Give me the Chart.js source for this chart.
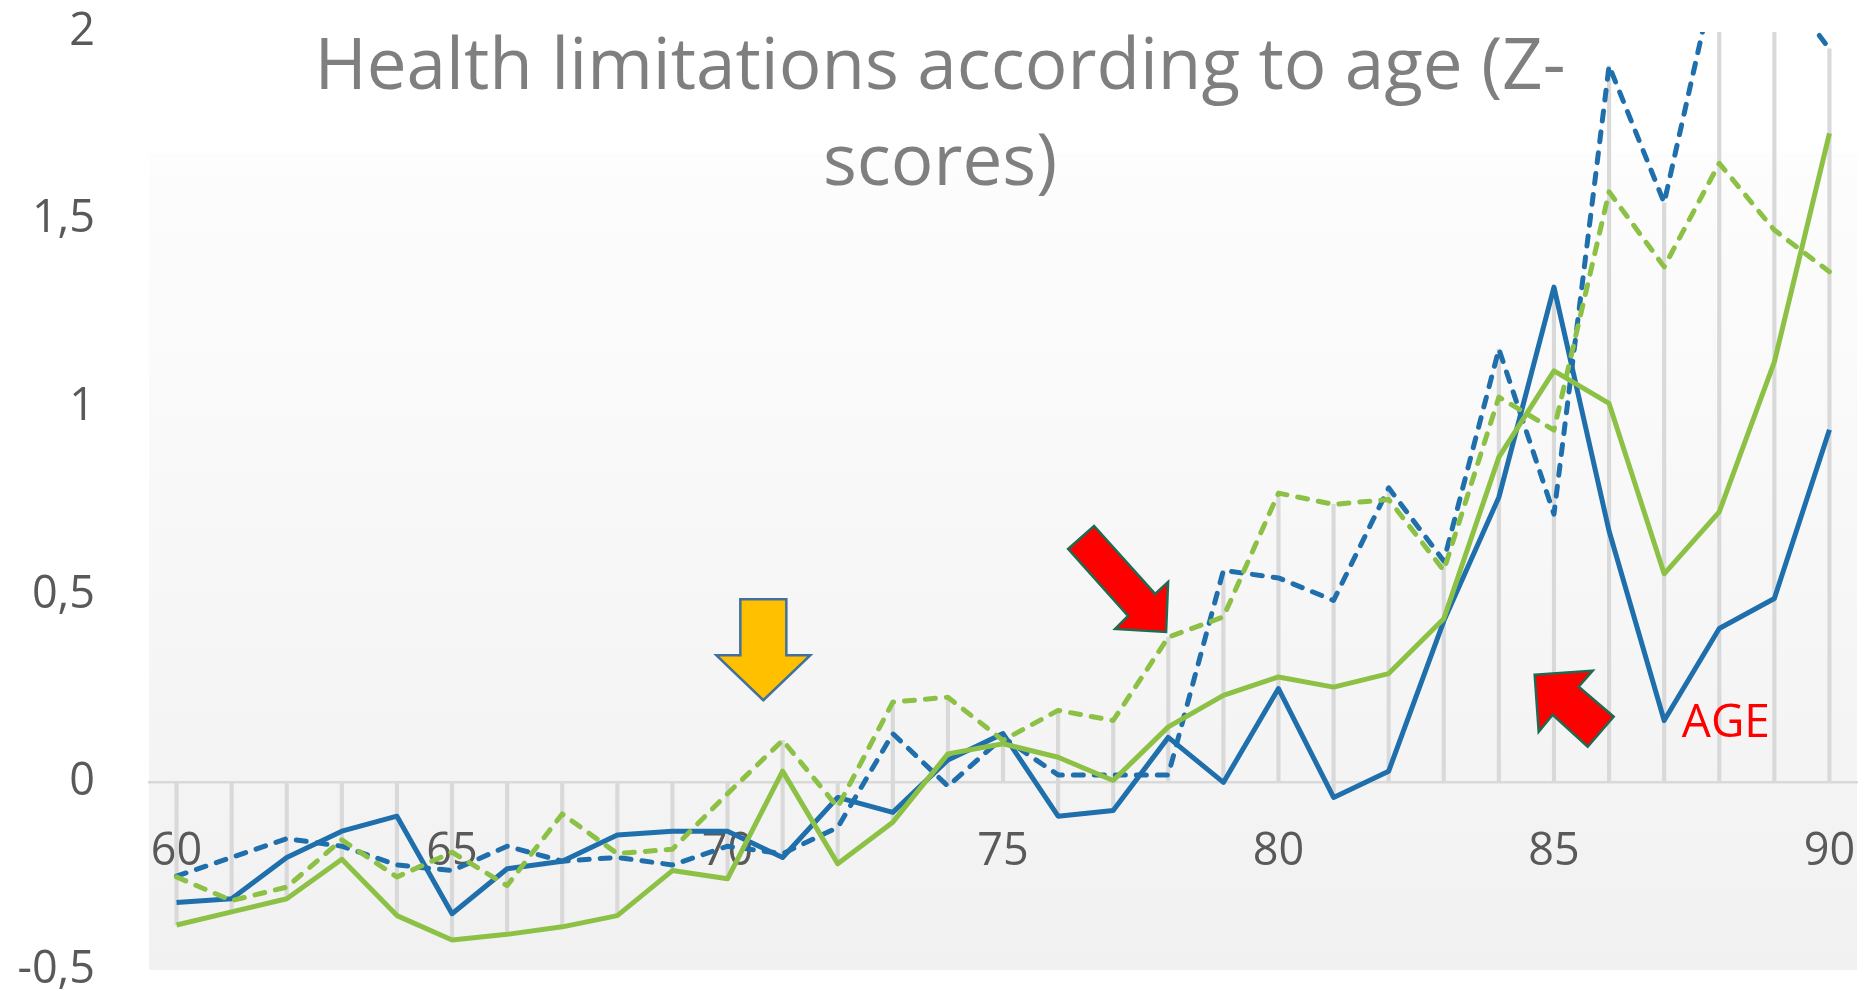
<!DOCTYPE html>
<html>
<head>
<meta charset="utf-8">
<script src="https://cdn.jsdelivr.net/npm/chart.js@4.4.0/dist/chart.umd.min.js"></script>
<style>
  html, body { margin: 0; padding: 0; background: #fff; }
  canvas { display: block; }
</style>
</head>
<body>
<canvas id="ageChart" width="1870" height="991"></canvas>
<script>
/* Health limitations according to age - z-scores, 4 series + drop lines */

const BLUE = '#1f6fac';
const GREEN = '#8cc146';
const DROP_GREY = '#d9d9d9';
const TICK_GREY = '#595959';

const ages = [60,61,62,63,64,65,66,67,68,69,70,71,72,73,74,75,76,77,78,79,80,81,82,83,84,85,86,87,88,89,90];
const blueSolid   = [-0.32,-0.31,-0.20,-0.13,-0.09,-0.35,-0.23,-0.21,-0.14,-0.13,-0.13,-0.20,-0.04,-0.08,0.06,0.13,-0.09,-0.075,0.12,0.00,0.25,-0.04,0.03,0.43,0.76,1.32,0.67,0.165,0.41,0.49,0.94];
const blueDashed  = [-0.25,-0.20,-0.15,-0.17,-0.22,-0.235,-0.17,-0.21,-0.20,-0.22,-0.17,-0.19,-0.12,0.13,-0.01,0.12,0.02,0.02,0.02,0.565,0.545,0.485,0.785,0.59,1.155,0.715,1.91,1.545,2.2,2.15,1.955];
const greenSolid  = [-0.38,-0.345,-0.31,-0.205,-0.355,-0.42,-0.405,-0.385,-0.355,-0.235,-0.257,0.03,-0.217,-0.106,0.076,0.103,0.067,0.005,0.148,0.232,0.281,0.254,0.29,0.436,0.867,1.097,1.01,0.556,0.721,1.121,1.73];
const greenDashed = [-0.252,-0.315,-0.279,-0.153,-0.252,-0.186,-0.275,-0.084,-0.19,-0.178,-0.03,0.112,-0.066,0.214,0.227,0.112,0.192,0.165,0.387,0.441,0.771,0.741,0.754,0.565,1.027,0.939,1.574,1.374,1.65,1.472,1.361];

const titleLines = ['Health limitations according to age (Z-', 'scores)'];

// drop lines: from the lowest to the highest point of each age (axis included)
const dropLines = ages.map((_, i) => {
  const vals = [0, blueSolid[i], blueDashed[i], greenSolid[i], greenDashed[i]];
  return [Math.min(...vals), Math.max(...vals)];
});

// drawn shapes on top of the plot, anchored at (age, z) with pixel offsets
const arrows = [
  { age: 70.65, z: 0.219, fill: '#ffc000', stroke: '#41719c',
    shape: [[-23,-101],[23,-101],[23,-45],[47,-45],[0,0],[-47,-45],[-23,-45]] },
  { age: 77.96, z: 0.401, fill: '#ff0000', stroke: '#1e6b52',
    shape: [[-98,-83],[-72,-106],[-11,-38],[2,-50],[0,0],[-51,-3],[-38,-16]] },
  { age: 84.65, z: 0.287, fill: '#ff0000', stroke: '#1e6b52',
    shape: [[0,0],[58,-4],[44,12],[79,42],[53,72],[18,40],[4,57]] }
];

Chart.defaults.font.family = "'Open Sans', sans-serif";
Chart.defaults.color = TICK_GREY;

const plotBackground = {
  id: 'plotBackground',
  beforeDraw(chart) {
    const { ctx, chartArea: ca } = chart;
    ctx.save();
    ctx.fillStyle = '#ffffff';
    ctx.fillRect(0, 0, chart.width, chart.height);
    const top = 153;
    const g = ctx.createLinearGradient(0, top, 0, ca.bottom);
    g.addColorStop(0, '#fdfdfd');
    g.addColorStop(1, '#f1f1f1');
    ctx.fillStyle = g;
    ctx.fillRect(ca.left, top, ca.right - ca.left, ca.bottom - top);
    ctx.restore();
  }
};

const annotations = {
  id: 'annotations',
  afterDatasetsDraw(chart) {
    const { ctx, scales: { x, y } } = chart;
    ctx.save();
    arrows.forEach(a => {
      const px = x.getPixelForValue(a.age - ages[0]);
      const py = y.getPixelForValue(a.z);
      ctx.beginPath();
      a.shape.forEach(([dx, dy], i) => i ? ctx.lineTo(px + dx, py + dy) : ctx.moveTo(px + dx, py + dy));
      ctx.closePath();
      ctx.fillStyle = a.fill;
      ctx.fill();
      ctx.lineWidth = 2.5;
      ctx.lineJoin = 'miter';
      ctx.strokeStyle = a.stroke;
      ctx.stroke();
    });
    ctx.font = "46px 'Open Sans'";
    ctx.fillStyle = '#ff0000';
    ctx.textBaseline = 'alphabetic';
    ctx.textAlign = 'left';
    ctx.fillText('AGE', x.getPixelForValue(87.32 - ages[0]), y.getPixelForValue(0.12));
    ctx.restore();
  }
};

function lineSet(label, data, color, dashed, order) {
  return {
    type: 'line',
    label: label,
    data: data,
    yAxisID: 'y',
    borderColor: color,
    backgroundColor: color,
    borderWidth: 5,
    borderDash: dashed ? [10, 11] : [],
    borderCapStyle: dashed ? 'round' : 'butt',
    borderJoinStyle: 'round',
    pointRadius: 0,
    tension: 0,
    order: order
  };
}

new Chart(document.getElementById('ageChart').getContext('2d'), {
  data: {
    labels: ages,
    datasets: [
      lineSet('Blue solid', blueSolid, BLUE, false, 4),
      lineSet('Blue dashed', blueDashed, BLUE, true, 3),
      lineSet('Green solid', greenSolid, GREEN, false, 2),
      lineSet('Green dashed', greenDashed, GREEN, true, 1),
      {
        type: 'bar',
        label: 'Drop lines',
        data: dropLines,
        yAxisID: 'y',
        backgroundColor: DROP_GREY,
        borderWidth: 0,
        barThickness: 3.5,
        order: 10
      }
    ]
  },
  options: {
    responsive: false,
    animation: false,
    layout: { padding: { top: 32, bottom: 21, left: 10, right: 0 } },
    plugins: {
      legend: { display: false },
      tooltip: { enabled: false },
      title: {
        display: true,
        text: titleLines,
        color: '#7f7f7f',
        font: { size: 71, weight: 'normal', lineHeight: '96px' },
        padding: { top: -11.5, bottom: -180.5 }
      }
    },
    scales: {
      x: {
        type: 'category',
        offset: true,
        position: { y: 0 },
        grid: { display: false, drawTicks: false },
        border: { display: true, color: DROP_GREY, width: 2.5 },
        ticks: {
          autoSkip: false,
          maxRotation: 0,
          padding: 43,
          color: TICK_GREY,
          font: { size: 45 },
          callback: (val, i) => (ages[i] % 5 === 0 ? String(ages[i]) : '')
        },
        afterFit: s => { s.paddingLeft = 0; s.paddingRight = 0; }
      },
      y: {
        min: -0.5,
        max: 2,
        grid: { display: false, drawTicks: false },
        border: { display: false },
        ticks: {
          stepSize: 0.5,
          padding: 54,
          color: TICK_GREY,
          font: { size: 45 },
          callback: v => String(v).replace('.', ',')
        },
        afterFit: s => { s.width = 139; s.paddingTop = 0; s.paddingBottom = 0; }
      },
      // empty right margin so the title centre sits where it does in the original
      yRight: {
        position: 'right',
        min: 0,
        max: 1,
        grid: { display: false, drawTicks: false },
        border: { display: false },
        ticks: { display: false },
        afterFit: s => { s.width = 13; s.paddingTop = 0; s.paddingBottom = 0; }
      }
    }
  },
  plugins: [plotBackground, annotations]
});
</script>
</body>
</html>
